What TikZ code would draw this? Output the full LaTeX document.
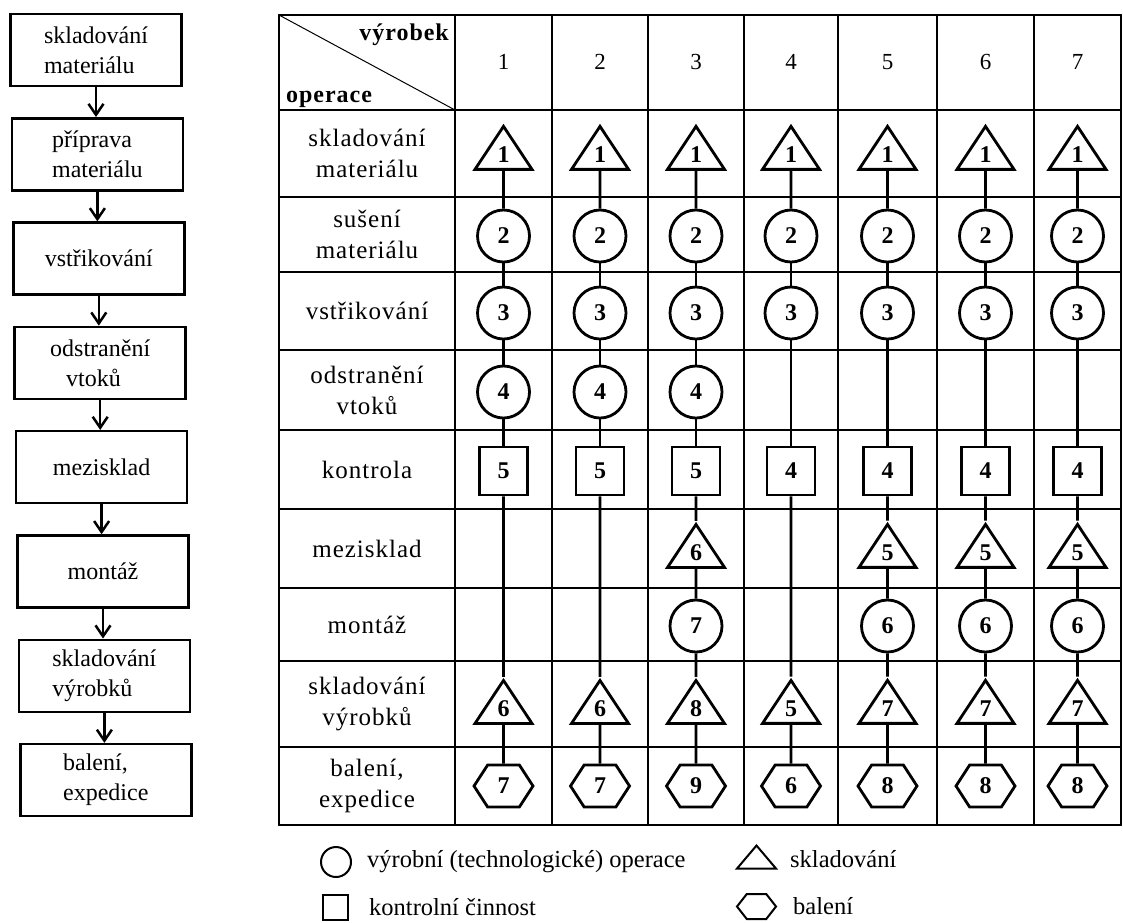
\documentclass[tikz,border=0pt]{standalone}
\usepackage{fontspec}
\setmainfont{Liberation Serif}
\newfontfamily\tabfont[LetterSpace=4]{Liberation Serif}
\usetikzlibrary{arrows.meta,shapes.geometric,shapes.symbols}

\tikzset{
  flowbox/.style={draw, line width=2.5pt, minimum width=171pt, minimum height=72pt,
    inner sep=0pt, align=left, font=\fontsize{24}{30}\selectfont},
  flowarrow/.style={line width=2.5pt, -{Straight Barb[length=11pt,width=15pt]}},
  tabline/.style={line width=1.4pt, line cap=rect},
  rowlabel/.style={inner sep=0pt, align=center, font=\tabfont\fontsize{25}{31}\selectfont},
  symb/.style={draw, line width=2.8pt, inner sep=0pt, font=\bfseries\fontsize{24}{24}\selectfont},
  op/.style={symb, circle, minimum size=52pt},
  ctrl/.style={symb, rectangle, minimum size=48pt},
  store/.style={symb, isosceles triangle, isosceles triangle stretches,
    shape border rotate=90, minimum width=57pt, minimum height=43pt},
  pack/.style={symb, signal, signal to=east and west, signal pointer angle=114,
    minimum width=59pt, minimum height=42pt},
  seqline/.style={line width=2.8pt},
  legtext/.style={inner sep=0pt, anchor=west, font=\fontsize{24.5}{30}\selectfont}
}

\begin{document}
\begin{tikzpicture}[x=1pt, y=-1pt]
\useasboundingbox (0,0) rectangle (1123,922);

% Flow of operations
\foreach \i/\txt in {1/{skladování\\materiálu}, 2/{příprava\\materiálu}, 3/vstřikování,
    4/{odstranění\\\hspace*{16pt}vtoků}, 5/mezisklad, 6/montáž,
    7/{skladování\\výrobků}, 8/{balení,\\expedice}} {
    \node[flowbox] (f\i) at ({96+1.4*(\i-1)}, {50+104.3*(\i-1)}) {\txt};
}
\foreach \i [evaluate=\i as \j using int(\i+1)] in {1,...,7} {
    \draw[flowarrow] (f\i.south) -- (f\i.south |- f\j.north);
}

% Table grid
\foreach \x in {279,455,552,648,744,838,937,1034,1121} {
    \draw[tabline] (\x,15) -- (\x,825);
}
\foreach \y in {15,110,197,272,350,430,509,588,661,747,825} {
    \draw[tabline] (279,\y) -- (1121,\y);
}
\draw[line width=1pt] (279,15) -- (455,110);

% Header
\node[inner sep=0pt, anchor=base east, font=\tabfont\bfseries\fontsize{24}{24}\selectfont]
    (hprod) at (449,40) {výrobek};
\node[inner sep=0pt, anchor=base west, font=\tabfont\bfseries\fontsize{24}{24}\selectfont]
    (hoper) at (286,102) {operace};
\foreach \c/\cx in {1/503.5, 2/600, 3/696, 4/791, 5/887.5, 6/985.5, 7/1077.5} {
    \node[inner sep=0pt, font=\fontsize{23}{23}\selectfont] (h\c) at (\cx,62) {\c};
}

% Operation rows
\foreach \r/\ry/\txt in {1/153.5/{skladování\\materiálu}, 2/234.5/{sušení\\materiálu},
    3/311/vstřikování, 4/390/{odstranění\\vtoků}, 5/469.5/kontrola, 6/548.5/mezisklad,
    7/624.5/montáž, 8/704/{skladování\\výrobků}, 9/786/{balení,\\expedice}} {
    \node[rowlabel] (r\r) at (367,\ry) {\txt};
}

% Symbols for each product
\def\rowys{{155,236,313,392,471,553,626,709,786}}
\foreach \c/\cx/\items in {
    1/503.5/{1/store/1,2/op/2,3/op/3,4/op/4,5/ctrl/5,8/store/6,9/pack/7},
    2/600/{1/store/1,2/op/2,3/op/3,4/op/4,5/ctrl/5,8/store/6,9/pack/7},
    3/696/{1/store/1,2/op/2,3/op/3,4/op/4,5/ctrl/5,6/store/6,7/op/7,8/store/8,9/pack/9},
    4/791/{1/store/1,2/op/2,3/op/3,5/ctrl/4,8/store/5,9/pack/6},
    5/887.5/{1/store/1,2/op/2,3/op/3,5/ctrl/4,6/store/5,7/op/6,8/store/7,9/pack/8},
    6/985.5/{1/store/1,2/op/2,3/op/3,5/ctrl/4,6/store/5,7/op/6,8/store/7,9/pack/8},
    7/1077.5/{1/store/1,2/op/2,3/op/3,5/ctrl/4,6/store/5,7/op/6,8/store/7,9/pack/8}} {
    \gdef\prev{0}
    \foreach \r/\t/\n in \items {
        \pgfmathsetmacro\ry{\rowys[\r-1]}
        \node[\t] (s\c-\r) at (\cx,\ry) {\n};
        \ifnum\prev>0 \draw[seqline] (s\c-\prev) -- (s\c-\r); \fi
        \xdef\prev{\r}
    }
}

% Legend
\node[op, minimum size=30pt, line width=2pt] (lgop) at (336,862) {};
\node[legtext] (lgoptxt) at (367,862) {výrobní (technologické) operace};
\node[ctrl, minimum size=25pt, line width=2pt] (lgctrl) at (335,907) {};
\node[legtext] (lgctrltxt) at (369,907) {kontrolní činnost};
\node[store, minimum width=39pt, minimum height=23pt, line width=2pt] (lgstore) at (756.5,859.5) {};
\node[legtext] (lgstoretxt) at (790,859.5) {skladování};
\node[pack, minimum width=39pt, minimum height=25pt, signal pointer angle=104,
    line width=2pt] (lgpack) at (756.5,906.5) {};
\node[legtext] (lgpacktxt) at (793,906.5) {balení};
\end{tikzpicture}
\end{document}
